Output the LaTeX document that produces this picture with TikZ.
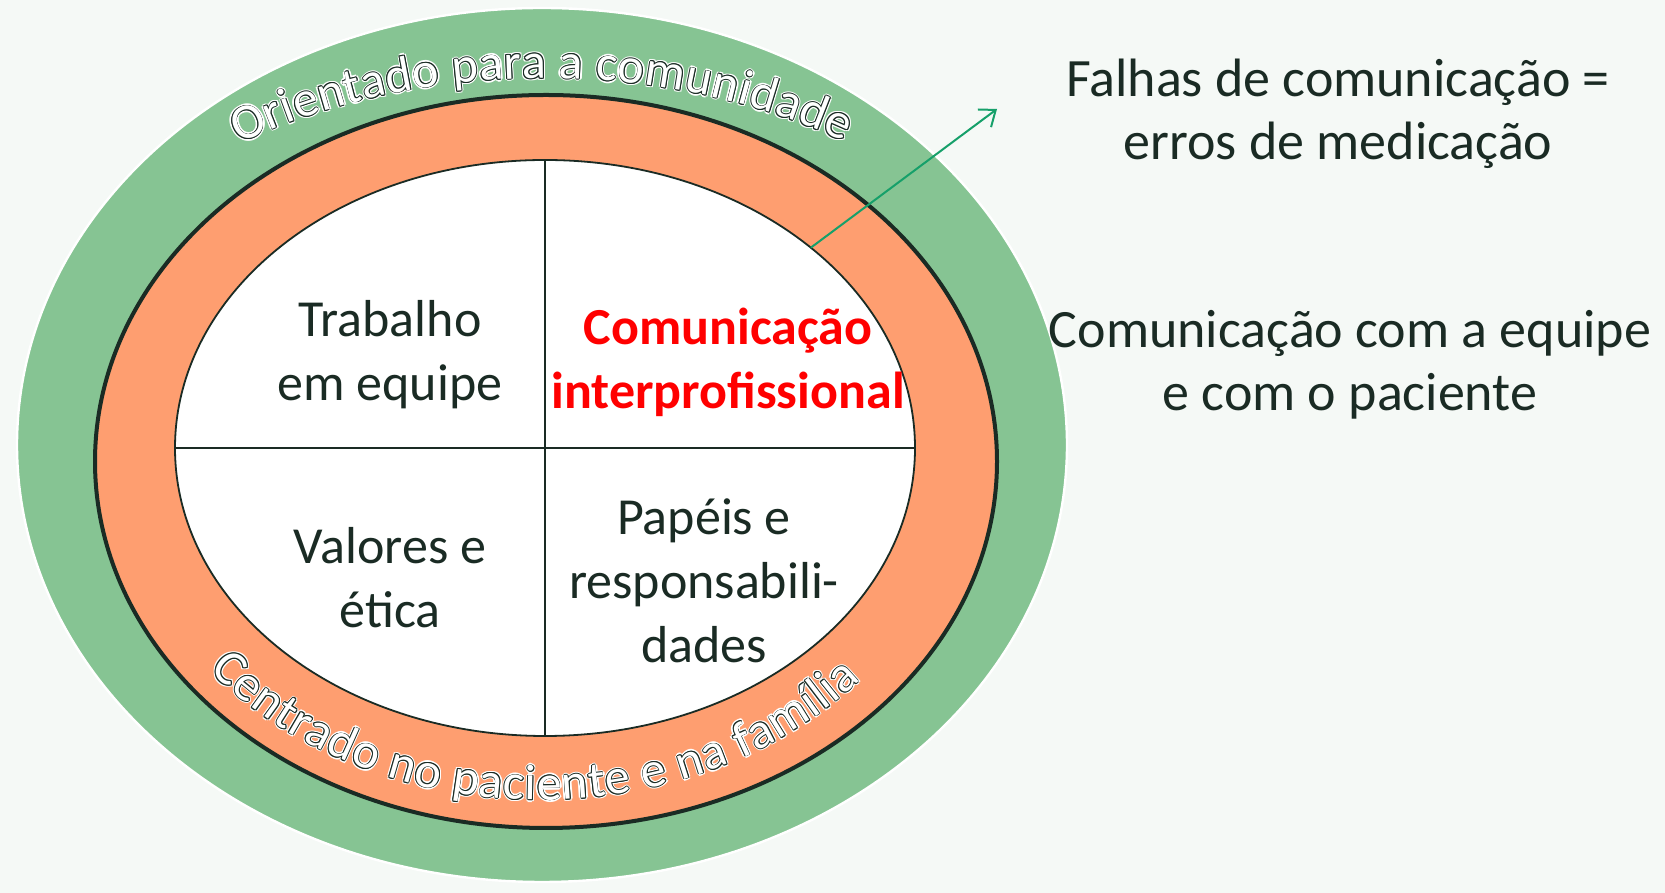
\documentclass[tikz,border=0pt]{standalone}
\usepackage{fontspec}
\setmainfont{Carlito}
\usetikzlibrary{shapes.geometric,arrows.meta,decorations.text}
\definecolor{bgc}{HTML}{F5F9F6}
\definecolor{ringgreen}{HTML}{86C493}
\definecolor{ringorange}{HTML}{FE9E70}
\definecolor{darktext}{HTML}{1A2B24}
\definecolor{arrowgreen}{HTML}{16A06A}
\definecolor{hotred}{HTML}{FF0000}
\newcommand\curvefont{\fontsize{25pt}{30pt}\selectfont}
\newcommand\arctext[2]{%
  \foreach \a in {0,45,...,315} {
    \path[decorate, shift={(\a:1.1pt)}, decoration={text along path, text={|\curvefont|#2}, text align=fit to path, text color=white}] #1;
  }
  \foreach \a in {0,45,...,315} {
    \path[decorate, shift={(\a:0.4pt)}, decoration={text along path, text={|\curvefont|#2}, text align=fit to path, text color=darktext}] #1;
  }
  \path[decorate, decoration={text along path, text={|\curvefont|#2}, text align=fit to path, text color=white}] #1;
}
\tikzset{
  ring/.style={ellipse, inner sep=0pt, outer sep=0pt},
  lbl/.style={font=\fontsize{26pt}{32pt}\selectfont, align=center, text=darktext, inner sep=0pt},
  hot/.style={font=\fontsize{26pt}{32pt}\selectfont\bfseries, align=center, text=hotred, inner sep=0pt},
  side/.style={font=\fontsize{27pt}{31.5pt}\selectfont, align=center, text=darktext, inner sep=0pt},
  divider/.style={draw=darktext, line width=1pt},
  pointer/.style={draw=arrowgreen, line width=1pt, -{Straight Barb[length=7pt,width=11pt,line width=1pt]}}
}
\begin{document}
\begin{tikzpicture}[x=0.5pt,y=0.5pt]
  \fill[bgc] (0,0) rectangle (1665,893);
  \useasboundingbox (0,0) rectangle (1665,893);
  % rings
  \node[ring, fill=ringgreen, draw=white, line width=1.2pt, minimum width=525pt, minimum height=437pt] (green) at (542,448) {};
  \node[ring, fill=ringorange, draw=darktext, line width=2pt, minimum width=451pt, minimum height=366.5pt] (orange) at (546,431.5) {};
  \node[ring, fill=white, draw=darktext, line width=0.9pt, minimum width=370pt, minimum height=288pt] (inner) at (545,445) {};
  % dividers
  \draw[divider] (inner.north) -- (inner.south);
  \draw[divider] (inner.west) -- (inner.east);
  % quadrant texts
  \node[lbl] (trab) at (390,538) {Trabalho\\em equipe};
  \node[hot] (com) at (728,531) {Comunicação\\interprofissional};
  \node[lbl] (val) at (390,315) {Valores e\\ética};
  \node[lbl] (pap) at (704,312) {Papéis e\\responsabili-\\dades};
  % side texts
  \node[side] (falhas) at (1338,779) {Falhas de comunicação =\\erros de medicação};
  \node[side] (equipe) at (1350,528) {Comunicação com a equipe\\e com o paciente};
  % arrow
  \coordinate (tip) at (997,784);
  \draw[pointer] (inner.37.9) -- (tip);
  % curved texts
  \arctext{(239.2,748.9) arc[start angle=124.4, end angle=56.3, x radius=270pt, y radius=188pt]}{Orientado para a comunidade}
  \arctext{(209.7,222.7) arc[start angle=219, end angle=319, x radius=212.5pt, y radius=175pt]}{Centrado no paciente e na família}
\end{tikzpicture}
\end{document}
